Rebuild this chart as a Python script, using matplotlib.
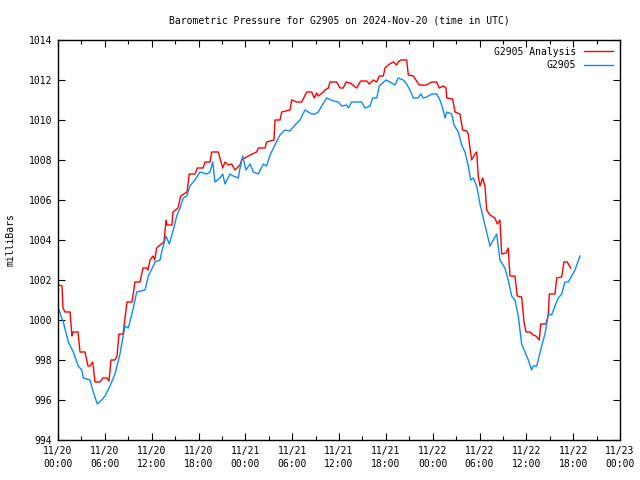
import numpy as np
import matplotlib
matplotlib.use("Agg")
import matplotlib.pyplot as plt
from datetime import datetime, timedelta

# hours since 2024-11-20 00:00 UTC, pressure in mb
analysis_hours = [0.13, 0.51, 0.64, 0.9, 1.54, 1.79, 1.92, 2.56, 2.82, 3.46, 3.84, 4.1, 4.45, 4.74,
                  5.38, 5.76, 6.28, 6.53, 6.79, 7.3, 7.56, 7.81, 8.33, 8.84, 9.48, 9.86, 10.5, 10.89,
                  11.4, 11.53, 11.79, 12.17, 12.39, 12.64, 13.07, 13.58, 13.84, 13.96, 14.6, 14.73,
                  15.37, 15.72, 16.53, 16.82, 17.55, 17.85, 18.58, 18.83, 19.47, 19.69, 20.54, 21.1,
                  21.39, 21.82, 22.25, 22.67, 23.32, 23.53, 23.96, 24.6, 25.45, 25.66, 26.52, 26.73,
                  27.67, 27.8, 28.44, 28.66, 29.72, 29.94, 30.58, 31.22, 31.86, 32.5, 32.83, 33.14,
                  33.35, 33.99, 34.2, 34.63, 34.84, 35.7, 36.13, 36.55, 36.89, 37.41, 38.27, 38.78,
                  39.55, 39.88, 40.39, 40.83, 41.16, 41.68, 41.89, 42.31, 42.95, 43.39, 43.59, 43.9,
                  44.67, 44.88, 45.52, 45.86, 46.28, 47.23, 47.87, 48.51, 48.85, 49.36, 49.71, 49.8,
                  50.56, 50.86, 51.5, 51.84, 52.36, 52.56, 52.78, 52.99, 53.42, 53.64, 53.84, 54.06,
                  54.41, 54.7, 54.92, 55.34, 55.98, 56.28, 56.62, 56.84, 57.39, 57.68, 57.9, 58.54,
                  58.84, 59.4, 59.7, 59.96, 60.47, 60.89, 61.23, 61.66, 61.84, 62.52, 62.81, 62.94,
                  63.67, 63.89, 64.53, 64.82, 65.24, 65.68]
analysis_mb = [1001.75, 1001.7, 1000.6, 1000.4, 1000.4, 999.2, 999.4, 999.4, 998.4, 998.4, 997.7,
               997.7, 997.9, 996.9, 996.9, 997.1, 997.1, 996.95, 998.0, 998.0, 998.2, 999.3, 999.3,
               1000.9, 1000.9, 1001.9, 1001.9, 1002.6, 1002.6, 1002.5, 1003.0, 1003.2, 1003.0,
               1003.6, 1003.75, 1003.9, 1005.0, 1004.75, 1004.75, 1005.4, 1005.6, 1006.2, 1006.4,
               1007.3, 1007.3, 1007.6, 1007.6, 1007.9, 1007.9, 1008.4, 1008.4, 1007.6, 1007.9,
               1007.75, 1007.8, 1007.5, 1007.75, 1008.0, 1008.1, 1008.25, 1008.4, 1008.6, 1008.6,
               1008.9, 1009.0, 1010.0, 1010.0, 1010.4, 1010.5, 1011.0, 1010.9, 1010.9, 1011.4,
               1011.4, 1011.1, 1011.35, 1011.2, 1011.4, 1011.5, 1011.6, 1011.9, 1011.9, 1011.6,
               1011.6, 1011.9, 1011.85, 1011.6, 1011.95, 1011.95, 1011.8, 1012.0, 1011.9, 1012.2,
               1012.2, 1012.6, 1012.75, 1012.9, 1012.75, 1012.9, 1013.0, 1013.0, 1012.25, 1012.2,
               1012.0, 1011.75, 1011.75, 1011.9, 1011.9, 1011.6, 1011.7, 1011.6, 1011.1, 1011.05,
               1010.4, 1010.3, 1009.5, 1009.45, 1009.3, 1008.6, 1008.0, 1008.3, 1008.4, 1007.2,
               1006.7, 1007.1, 1006.7, 1005.5, 1005.25, 1005.1, 1004.8, 1005.0, 1003.3, 1003.35,
               1003.6, 1002.2, 1002.2, 1001.2, 1001.15, 999.9, 999.4, 999.4, 999.25, 999.2, 999.0,
               999.8, 999.8, 1000.25, 1001.3, 1001.3, 1002.1, 1002.15, 1002.9, 1002.9, 1002.6]

station_hours = [0.13, 0.47, 0.68, 1.32, 1.96, 2.6, 3.04, 3.24, 4.1, 4.52, 5.03, 5.6, 6.02, 6.66,
                 7.3, 7.94, 8.58, 9.01, 9.65, 10.08, 11.15, 11.57, 12.21, 12.43, 13.07, 13.28,
                 13.84, 14.26, 14.77, 15.21, 15.63, 16.05, 16.49, 16.91, 17.55, 18.19, 19.05,
                 19.47, 19.82, 20.11, 20.75, 21.1, 21.39, 22.03, 22.46, 23.1, 23.32, 23.66, 24.08,
                 24.6, 25.02, 25.66, 26.3, 26.73, 27.16, 27.8, 28.44, 29.08, 29.72, 30.36, 31.0,
                 31.64, 32.5, 32.93, 33.35, 33.78, 34.42, 35.27, 35.91, 36.34, 36.98,
                 37.19, 37.62, 38.9, 39.33, 39.97, 40.31, 40.83, 41.16, 42.02, 42.53, 43.17, 43.59,
                 44.23, 44.67, 45.09, 45.52, 46.16, 46.47, 46.8, 47.23, 47.87, 48.51, 48.94, 49.28,
                 49.58, 49.8, 50.44, 50.73, 51.28, 51.72, 52.14, 52.56, 52.87, 53.2, 53.64, 54.06,
                 54.7, 55.34, 55.76, 56.2, 56.62, 57.26, 57.68, 58.12, 58.54, 58.97, 59.4, 59.83,
                 60.25, 60.68, 60.89, 61.32, 61.53, 61.96, 62.39, 62.81, 63.24, 63.67, 64.09,
                 64.53, 64.95, 65.37, 65.81, 66.23, 66.87]
station_mb = [1000.5, 1000.1, 999.9, 998.9, 998.4, 997.7, 997.5, 997.1, 997.0, 996.4, 995.8, 996.0,
              996.2, 996.7, 997.3, 998.3, 999.7, 999.6, 1000.6, 1001.4, 1001.5, 1002.2, 1002.7,
              1002.9, 1003.0, 1003.4, 1004.2, 1003.8, 1004.5, 1005.2, 1005.6, 1006.1, 1006.2,
              1006.7, 1007.0, 1007.4, 1007.3, 1007.4, 1007.9, 1006.9, 1007.1, 1007.3, 1006.8,
              1007.3, 1007.2, 1007.1, 1007.6, 1008.2, 1007.5, 1007.8, 1007.4, 1007.3, 1007.8,
              1007.7, 1008.25, 1008.75, 1009.25, 1009.5, 1009.45, 1009.75, 1010.0, 1010.5,
              1010.3, 1010.3, 1010.4, 1010.7, 1011.1, 1010.95, 1010.9, 1010.7, 1010.75,
              1010.6, 1010.9, 1010.9, 1010.6, 1010.7, 1011.1, 1011.1, 1011.7, 1012.0, 1011.9,
              1011.75, 1012.1, 1012.0, 1011.8, 1011.5, 1011.1, 1011.1, 1011.3, 1011.1, 1011.15,
              1011.3, 1011.3, 1011.0, 1010.6, 1010.1, 1010.4, 1010.3, 1009.75, 1009.4, 1008.75,
              1008.4, 1007.7, 1007.0, 1007.1, 1006.7, 1005.8, 1004.75, 1003.7, 1004.0, 1004.3,
              1003.0, 1002.6, 1002.0, 1001.2, 1001.0, 1000.2, 998.8, 998.4, 998.0, 997.5, 997.7,
              997.7, 998.0, 998.7, 999.3, 1000.3, 1000.25, 1000.7, 1001.1, 1001.3, 1001.9,
              1001.9, 1002.2, 1002.5, 1003.2]

start = datetime(2024, 11, 20)
tick_hours = list(range(0, 73, 6))
tick_labels = [(start + timedelta(hours=h)).strftime("%m/%d\n%H:%M") for h in tick_hours]

plt.rcParams['font.family'] = 'DejaVu Sans Mono'
plt.rcParams['font.size'] = 7

fig = plt.figure(figsize=(6.4, 4.8), dpi=100)
ax = fig.add_axes([58/640, 40/480, 562/640, 400/480])

ax.plot(analysis_hours, analysis_mb, color='#ff0000', linewidth=1.0, label='G2905 Analysis')
ax.plot(station_hours, station_mb, color='#0a8cff', linewidth=1.0, label='G2905')

ax.set_xlim(0, 72)
ax.set_ylim(994, 1014)
ax.set_xticks(tick_hours)
ax.set_xticklabels(tick_labels, linespacing=1.45)
ax.set_xticks(range(3, 72, 6), minor=True)
ax.set_yticks(range(994, 1015, 2))
ax.tick_params(which='both', direction='in', top=True, right=True, length=5, width=0.8,
               labelsize=7, pad=4)
ax.tick_params(which='minor', length=3)
for s in ax.spines.values():
    s.set_linewidth(1.0)

ax.set_ylabel('milliBars', fontsize=7)
ax.yaxis.set_label_coords(-0.075, 0.5)
ax.set_title('Barometric Pressure for G2905 on 2024-Nov-20 (time in UTC)', fontsize=7, pad=12)

ax.legend(loc='upper right', frameon=False, markerfirst=False, fontsize=7,
          handlelength=3.0, borderaxespad=0.3, labelspacing=0.35, handletextpad=0.8)

fig.savefig('out.png', dpi=100)
